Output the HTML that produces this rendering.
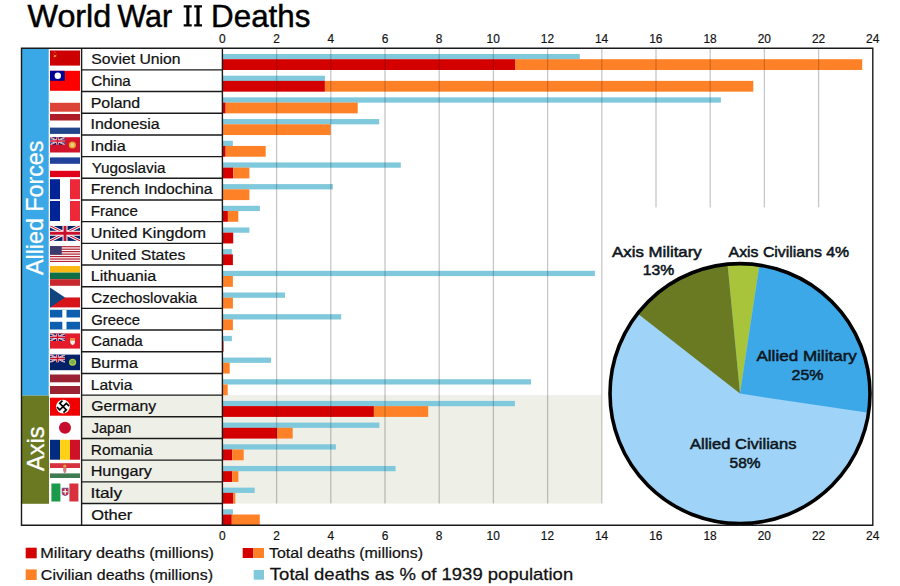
<!DOCTYPE html>
<html><head><meta charset="utf-8"><style>
html,body{margin:0;padding:0;background:#fff;width:900px;height:586px;overflow:hidden}
svg{display:block}
text{font-family:"Liberation Sans",sans-serif}
</style></head><body>
<svg width="900" height="586" viewBox="0 0 900 586">
<rect x="0" y="0" width="900" height="586" fill="#fff"/><rect x="81.5" y="395.11" width="519.90" height="108.41" fill="#eef0e8"/><rect x="21.5" y="48.20" width="27.2" height="347.40" fill="#3aa8e6"/><rect x="21.5" y="395.6" width="27.5" height="108.20" fill="#6b7a22"/><line x1="276.60" y1="48.2" x2="276.60" y2="503.5" stroke="#000" stroke-opacity="0.04" stroke-width="1.3"/><line x1="330.80" y1="48.2" x2="330.80" y2="503.5" stroke="#000" stroke-opacity="0.04" stroke-width="1.3"/><line x1="385.00" y1="48.2" x2="385.00" y2="503.5" stroke="#000" stroke-opacity="0.04" stroke-width="1.3"/><line x1="439.20" y1="48.2" x2="439.20" y2="503.5" stroke="#000" stroke-opacity="0.04" stroke-width="1.3"/><line x1="493.40" y1="48.2" x2="493.40" y2="503.5" stroke="#000" stroke-opacity="0.04" stroke-width="1.3"/><line x1="547.60" y1="48.2" x2="547.60" y2="503.5" stroke="#000" stroke-opacity="0.04" stroke-width="1.3"/><line x1="601.80" y1="48.2" x2="601.80" y2="503.5" stroke="#000" stroke-opacity="0.04" stroke-width="1.3"/><line x1="656.00" y1="48.2" x2="656.00" y2="207.4" stroke="#000" stroke-opacity="0.04" stroke-width="1.3"/><line x1="710.20" y1="48.2" x2="710.20" y2="207.4" stroke="#000" stroke-opacity="0.04" stroke-width="1.3"/><line x1="764.40" y1="48.2" x2="764.40" y2="207.4" stroke="#000" stroke-opacity="0.04" stroke-width="1.3"/><line x1="818.60" y1="48.2" x2="818.60" y2="207.4" stroke="#000" stroke-opacity="0.04" stroke-width="1.3"/><rect x="222.40" y="54.00" width="357.40" height="5.3" fill="#80c8dc"/><rect x="222.40" y="59.20" width="292.60" height="10.8" fill="#d40000"/><rect x="515.00" y="59.20" width="347.20" height="10.8" fill="#ff8127"/><rect x="222.40" y="75.68" width="102.50" height="5.3" fill="#80c8dc"/><rect x="222.40" y="80.88" width="102.50" height="10.8" fill="#d40000"/><rect x="324.90" y="80.88" width="428.40" height="10.8" fill="#ff8127"/><rect x="222.40" y="97.36" width="498.50" height="5.3" fill="#80c8dc"/><rect x="222.40" y="102.56" width="3.30" height="10.8" fill="#d40000"/><rect x="225.70" y="102.56" width="132.00" height="10.8" fill="#ff8127"/><rect x="222.40" y="119.05" width="156.80" height="5.3" fill="#80c8dc"/><rect x="222.40" y="124.25" width="108.20" height="10.8" fill="#ff8127"/><rect x="222.40" y="140.73" width="10.40" height="5.3" fill="#80c8dc"/><rect x="222.40" y="145.93" width="3.30" height="10.8" fill="#d40000"/><rect x="225.70" y="145.93" width="40.00" height="10.8" fill="#ff8127"/><rect x="222.40" y="162.41" width="178.40" height="5.3" fill="#80c8dc"/><rect x="222.40" y="167.61" width="10.80" height="10.8" fill="#d40000"/><rect x="233.20" y="167.61" width="16.20" height="10.8" fill="#ff8127"/><rect x="222.40" y="184.09" width="110.40" height="5.3" fill="#80c8dc"/><rect x="222.40" y="189.29" width="27.00" height="10.8" fill="#ff8127"/><rect x="222.40" y="205.77" width="37.50" height="5.3" fill="#80c8dc"/><rect x="222.40" y="210.97" width="5.50" height="10.8" fill="#d40000"/><rect x="227.90" y="210.97" width="10.40" height="10.8" fill="#ff8127"/><rect x="222.40" y="227.45" width="27.00" height="5.3" fill="#80c8dc"/><rect x="222.40" y="232.65" width="10.80" height="10.8" fill="#d40000"/><rect x="222.40" y="249.14" width="9.40" height="5.3" fill="#80c8dc"/><rect x="222.40" y="254.34" width="10.50" height="10.8" fill="#d40000"/><rect x="222.40" y="270.82" width="372.50" height="5.3" fill="#80c8dc"/><rect x="222.40" y="276.02" width="10.50" height="10.8" fill="#ff8127"/><rect x="222.40" y="292.50" width="62.60" height="5.3" fill="#80c8dc"/><rect x="222.40" y="297.70" width="10.50" height="10.8" fill="#ff8127"/><rect x="222.40" y="314.18" width="118.80" height="5.3" fill="#80c8dc"/><rect x="222.40" y="319.38" width="10.50" height="10.8" fill="#ff8127"/><rect x="222.40" y="335.86" width="9.50" height="5.3" fill="#80c8dc"/><rect x="222.40" y="341.06" width="1.10" height="10.8" fill="#d40000"/><rect x="222.40" y="357.55" width="48.60" height="5.3" fill="#80c8dc"/><rect x="222.40" y="362.75" width="7.30" height="10.8" fill="#ff8127"/><rect x="222.40" y="379.23" width="308.60" height="5.3" fill="#80c8dc"/><rect x="222.40" y="384.43" width="5.30" height="10.8" fill="#ff8127"/><rect x="222.40" y="400.91" width="292.50" height="5.3" fill="#80c8dc"/><rect x="222.40" y="406.11" width="151.50" height="10.8" fill="#d40000"/><rect x="373.90" y="406.11" width="54.30" height="10.8" fill="#ff8127"/><rect x="222.40" y="422.59" width="157.00" height="5.3" fill="#80c8dc"/><rect x="222.40" y="427.79" width="54.70" height="10.8" fill="#d40000"/><rect x="277.10" y="427.79" width="15.60" height="10.8" fill="#ff8127"/><rect x="222.40" y="444.27" width="113.50" height="5.3" fill="#80c8dc"/><rect x="222.40" y="449.47" width="9.80" height="10.8" fill="#d40000"/><rect x="232.20" y="449.47" width="11.50" height="10.8" fill="#ff8127"/><rect x="222.40" y="465.95" width="173.20" height="5.3" fill="#80c8dc"/><rect x="222.40" y="471.15" width="9.80" height="10.8" fill="#d40000"/><rect x="232.20" y="471.15" width="6.20" height="10.8" fill="#ff8127"/><rect x="222.40" y="487.64" width="32.30" height="5.3" fill="#80c8dc"/><rect x="222.40" y="492.84" width="10.80" height="10.8" fill="#d40000"/><rect x="233.20" y="492.84" width="2.10" height="10.8" fill="#ff8127"/><rect x="222.40" y="509.32" width="10.50" height="5.3" fill="#80c8dc"/><rect x="222.40" y="514.52" width="9.40" height="10.8" fill="#d40000"/><rect x="231.80" y="514.52" width="28.00" height="10.8" fill="#ff8127"/><line x1="276.60" y1="48.2" x2="276.60" y2="503.5" stroke="#000" stroke-opacity="0.19" stroke-width="1.3"/><line x1="330.80" y1="48.2" x2="330.80" y2="503.5" stroke="#000" stroke-opacity="0.19" stroke-width="1.3"/><line x1="385.00" y1="48.2" x2="385.00" y2="503.5" stroke="#000" stroke-opacity="0.19" stroke-width="1.3"/><line x1="439.20" y1="48.2" x2="439.20" y2="503.5" stroke="#000" stroke-opacity="0.19" stroke-width="1.3"/><line x1="493.40" y1="48.2" x2="493.40" y2="503.5" stroke="#000" stroke-opacity="0.19" stroke-width="1.3"/><line x1="547.60" y1="48.2" x2="547.60" y2="503.5" stroke="#000" stroke-opacity="0.19" stroke-width="1.3"/><line x1="601.80" y1="48.2" x2="601.80" y2="503.5" stroke="#000" stroke-opacity="0.19" stroke-width="1.3"/><line x1="656.00" y1="48.2" x2="656.00" y2="207.4" stroke="#000" stroke-opacity="0.19" stroke-width="1.3"/><line x1="710.20" y1="48.2" x2="710.20" y2="207.4" stroke="#000" stroke-opacity="0.19" stroke-width="1.3"/><line x1="764.40" y1="48.2" x2="764.40" y2="207.4" stroke="#000" stroke-opacity="0.19" stroke-width="1.3"/><line x1="818.60" y1="48.2" x2="818.60" y2="207.4" stroke="#000" stroke-opacity="0.19" stroke-width="1.3"/><circle cx="740.0" cy="393.6" r="130.0" fill="#9fd3f7"/><path d="M740.0,393.6 L727.54,264.20 A130.0,130.0 0 0 1 759.44,265.06 Z" fill="#a8c43a"/><path d="M740.0,393.6 L759.44,265.06 A130.0,130.0 0 0 1 868.57,412.82 Z" fill="#3ca8e8"/><path d="M740.0,393.6 L637.56,313.56 A130.0,130.0 0 0 1 727.54,264.20 Z" fill="#6a7a22"/><circle cx="740.0" cy="393.6" r="130.0" fill="none" stroke="#000" stroke-width="3.6"/><path d="M21.5,48.2 H872.8 V525.2 H21.5 Z" fill="none" stroke="#1a1a1a" stroke-width="1.4"/><line x1="81.6" y1="48.2" x2="81.6" y2="525.2" stroke="#1a1a1a" stroke-width="1.4"/><line x1="222.4" y1="48.2" x2="222.4" y2="525.2" stroke="#1a1a1a" stroke-width="1.4"/><line x1="81.6" y1="69.88" x2="222.4" y2="69.88" stroke="#1a1a1a" stroke-width="1.4"/><line x1="81.6" y1="91.56" x2="222.4" y2="91.56" stroke="#1a1a1a" stroke-width="1.4"/><line x1="81.6" y1="113.25" x2="222.4" y2="113.25" stroke="#1a1a1a" stroke-width="1.4"/><line x1="81.6" y1="134.93" x2="222.4" y2="134.93" stroke="#1a1a1a" stroke-width="1.4"/><line x1="81.6" y1="156.61" x2="222.4" y2="156.61" stroke="#1a1a1a" stroke-width="1.4"/><line x1="81.6" y1="178.29" x2="222.4" y2="178.29" stroke="#1a1a1a" stroke-width="1.4"/><line x1="81.6" y1="199.97" x2="222.4" y2="199.97" stroke="#1a1a1a" stroke-width="1.4"/><line x1="81.6" y1="221.65" x2="222.4" y2="221.65" stroke="#1a1a1a" stroke-width="1.4"/><line x1="81.6" y1="243.34" x2="222.4" y2="243.34" stroke="#1a1a1a" stroke-width="1.4"/><line x1="81.6" y1="265.02" x2="222.4" y2="265.02" stroke="#1a1a1a" stroke-width="1.4"/><line x1="81.6" y1="286.70" x2="222.4" y2="286.70" stroke="#1a1a1a" stroke-width="1.4"/><line x1="81.6" y1="308.38" x2="222.4" y2="308.38" stroke="#1a1a1a" stroke-width="1.4"/><line x1="81.6" y1="330.06" x2="222.4" y2="330.06" stroke="#1a1a1a" stroke-width="1.4"/><line x1="81.6" y1="351.75" x2="222.4" y2="351.75" stroke="#1a1a1a" stroke-width="1.4"/><line x1="81.6" y1="373.43" x2="222.4" y2="373.43" stroke="#1a1a1a" stroke-width="1.4"/><line x1="81.6" y1="395.11" x2="222.4" y2="395.11" stroke="#1a1a1a" stroke-width="1.4"/><line x1="81.6" y1="416.79" x2="222.4" y2="416.79" stroke="#1a1a1a" stroke-width="1.4"/><line x1="81.6" y1="438.47" x2="222.4" y2="438.47" stroke="#1a1a1a" stroke-width="1.4"/><line x1="81.6" y1="460.15" x2="222.4" y2="460.15" stroke="#1a1a1a" stroke-width="1.4"/><line x1="81.6" y1="481.84" x2="222.4" y2="481.84" stroke="#1a1a1a" stroke-width="1.4"/><line x1="81.6" y1="503.52" x2="222.4" y2="503.52" stroke="#1a1a1a" stroke-width="1.4"/><text x="91.29" y="64.40" font-size="14.53" textLength="89.23" lengthAdjust="spacingAndGlyphs" fill="#111" stroke="#111" stroke-width="0.22" >Soviet Union</text><text x="91.23" y="86.08" font-size="14.53" textLength="39.57" lengthAdjust="spacingAndGlyphs" fill="#111" stroke="#111" stroke-width="0.22" >China</text><text x="90.70" y="107.76" font-size="14.53" textLength="49.52" lengthAdjust="spacingAndGlyphs" fill="#111" stroke="#111" stroke-width="0.22" >Poland</text><text x="90.53" y="129.45" font-size="14.53" textLength="69.17" lengthAdjust="spacingAndGlyphs" fill="#111" stroke="#111" stroke-width="0.22" >Indonesia</text><text x="90.51" y="151.13" font-size="14.53" textLength="35.20" lengthAdjust="spacingAndGlyphs" fill="#111" stroke="#111" stroke-width="0.22" >India</text><text x="91.66" y="172.81" font-size="14.53" textLength="73.94" lengthAdjust="spacingAndGlyphs" fill="#111" stroke="#111" stroke-width="0.22" >Yugoslavia</text><text x="90.71" y="194.49" font-size="14.53" textLength="121.79" lengthAdjust="spacingAndGlyphs" fill="#111" stroke="#111" stroke-width="0.22" >French Indochina</text><text x="90.76" y="216.17" font-size="14.53" textLength="47.11" lengthAdjust="spacingAndGlyphs" fill="#111" stroke="#111" stroke-width="0.22" >France</text><text x="90.75" y="237.85" font-size="14.53" textLength="115.22" lengthAdjust="spacingAndGlyphs" fill="#111" stroke="#111" stroke-width="0.22" >United Kingdom</text><text x="90.79" y="259.54" font-size="14.53" textLength="94.49" lengthAdjust="spacingAndGlyphs" fill="#111" stroke="#111" stroke-width="0.22" >United States</text><text x="90.67" y="281.22" font-size="14.53" textLength="65.63" lengthAdjust="spacingAndGlyphs" fill="#111" stroke="#111" stroke-width="0.22" >Lithuania</text><text x="91.23" y="302.90" font-size="14.53" textLength="105.98" lengthAdjust="spacingAndGlyphs" fill="#111" stroke="#111" stroke-width="0.22" >Czechoslovakia</text><text x="91.26" y="324.58" font-size="14.53" textLength="48.80" lengthAdjust="spacingAndGlyphs" fill="#111" stroke="#111" stroke-width="0.22" >Greece</text><text x="91.25" y="346.26" font-size="14.53" textLength="51.55" lengthAdjust="spacingAndGlyphs" fill="#111" stroke="#111" stroke-width="0.22" >Canada</text><text x="90.69" y="367.95" font-size="14.53" textLength="47.12" lengthAdjust="spacingAndGlyphs" fill="#111" stroke="#111" stroke-width="0.22" >Burma</text><text x="90.72" y="389.63" font-size="14.53" textLength="41.59" lengthAdjust="spacingAndGlyphs" fill="#111" stroke="#111" stroke-width="0.22" >Latvia</text><text x="91.21" y="411.31" font-size="14.53" textLength="65.03" lengthAdjust="spacingAndGlyphs" fill="#111" stroke="#111" stroke-width="0.22" >Germany</text><text x="91.77" y="432.99" font-size="14.53" textLength="39.59" lengthAdjust="spacingAndGlyphs" fill="#111" stroke="#111" stroke-width="0.22" >Japan</text><text x="90.73" y="454.67" font-size="14.53" textLength="61.87" lengthAdjust="spacingAndGlyphs" fill="#111" stroke="#111" stroke-width="0.22" >Romania</text><text x="90.67" y="476.35" font-size="14.53" textLength="61.26" lengthAdjust="spacingAndGlyphs" fill="#111" stroke="#111" stroke-width="0.22" >Hungary</text><text x="90.41" y="498.04" font-size="14.53" textLength="31.62" lengthAdjust="spacingAndGlyphs" fill="#111" stroke="#111" stroke-width="0.22" >Italy</text><text x="91.23" y="519.72" font-size="14.53" textLength="41.14" lengthAdjust="spacingAndGlyphs" fill="#111" stroke="#111" stroke-width="0.22" >Other</text><text x="219.09" y="43.40" font-size="11.92" textLength="6.63" lengthAdjust="spacingAndGlyphs" fill="#111" stroke="#111" stroke-width="0.18" >0</text><text x="219.09" y="540.10" font-size="11.92" textLength="6.63" lengthAdjust="spacingAndGlyphs" fill="#111" stroke="#111" stroke-width="0.18" >0</text><text x="273.29" y="43.40" font-size="11.92" textLength="6.63" lengthAdjust="spacingAndGlyphs" fill="#111" stroke="#111" stroke-width="0.18" >2</text><text x="273.29" y="540.10" font-size="11.92" textLength="6.63" lengthAdjust="spacingAndGlyphs" fill="#111" stroke="#111" stroke-width="0.18" >2</text><text x="327.52" y="43.40" font-size="11.92" textLength="6.63" lengthAdjust="spacingAndGlyphs" fill="#111" stroke="#111" stroke-width="0.18" >4</text><text x="327.52" y="540.10" font-size="11.92" textLength="6.63" lengthAdjust="spacingAndGlyphs" fill="#111" stroke="#111" stroke-width="0.18" >4</text><text x="381.64" y="43.40" font-size="11.92" textLength="6.63" lengthAdjust="spacingAndGlyphs" fill="#111" stroke="#111" stroke-width="0.18" >6</text><text x="381.64" y="540.10" font-size="11.92" textLength="6.63" lengthAdjust="spacingAndGlyphs" fill="#111" stroke="#111" stroke-width="0.18" >6</text><text x="435.89" y="43.40" font-size="11.92" textLength="6.63" lengthAdjust="spacingAndGlyphs" fill="#111" stroke="#111" stroke-width="0.18" >8</text><text x="435.89" y="540.10" font-size="11.92" textLength="6.63" lengthAdjust="spacingAndGlyphs" fill="#111" stroke="#111" stroke-width="0.18" >8</text><text x="486.55" y="43.40" font-size="11.92" textLength="13.26" lengthAdjust="spacingAndGlyphs" fill="#111" stroke="#111" stroke-width="0.18" >10</text><text x="486.55" y="540.10" font-size="11.92" textLength="13.26" lengthAdjust="spacingAndGlyphs" fill="#111" stroke="#111" stroke-width="0.18" >10</text><text x="540.82" y="43.40" font-size="11.92" textLength="13.26" lengthAdjust="spacingAndGlyphs" fill="#111" stroke="#111" stroke-width="0.18" >12</text><text x="540.82" y="540.10" font-size="11.92" textLength="13.26" lengthAdjust="spacingAndGlyphs" fill="#111" stroke="#111" stroke-width="0.18" >12</text><text x="594.89" y="43.40" font-size="11.92" textLength="13.26" lengthAdjust="spacingAndGlyphs" fill="#111" stroke="#111" stroke-width="0.18" >14</text><text x="594.89" y="540.10" font-size="11.92" textLength="13.26" lengthAdjust="spacingAndGlyphs" fill="#111" stroke="#111" stroke-width="0.18" >14</text><text x="649.18" y="43.40" font-size="11.92" textLength="13.26" lengthAdjust="spacingAndGlyphs" fill="#111" stroke="#111" stroke-width="0.18" >16</text><text x="649.18" y="540.10" font-size="11.92" textLength="13.26" lengthAdjust="spacingAndGlyphs" fill="#111" stroke="#111" stroke-width="0.18" >16</text><text x="703.38" y="43.40" font-size="11.92" textLength="13.26" lengthAdjust="spacingAndGlyphs" fill="#111" stroke="#111" stroke-width="0.18" >18</text><text x="703.38" y="540.10" font-size="11.92" textLength="13.26" lengthAdjust="spacingAndGlyphs" fill="#111" stroke="#111" stroke-width="0.18" >18</text><text x="757.71" y="43.40" font-size="11.92" textLength="13.26" lengthAdjust="spacingAndGlyphs" fill="#111" stroke="#111" stroke-width="0.18" >20</text><text x="757.71" y="540.10" font-size="11.92" textLength="13.26" lengthAdjust="spacingAndGlyphs" fill="#111" stroke="#111" stroke-width="0.18" >20</text><text x="811.97" y="43.40" font-size="11.92" textLength="13.26" lengthAdjust="spacingAndGlyphs" fill="#111" stroke="#111" stroke-width="0.18" >22</text><text x="811.97" y="540.10" font-size="11.92" textLength="13.26" lengthAdjust="spacingAndGlyphs" fill="#111" stroke="#111" stroke-width="0.18" >22</text><text x="866.05" y="43.40" font-size="11.92" textLength="13.26" lengthAdjust="spacingAndGlyphs" fill="#111" stroke="#111" stroke-width="0.18" >24</text><text x="866.05" y="540.10" font-size="11.92" textLength="13.26" lengthAdjust="spacingAndGlyphs" fill="#111" stroke="#111" stroke-width="0.18" >24</text><text x="27.47" y="26.50" font-size="30.52" textLength="83.81" lengthAdjust="spacingAndGlyphs" fill="#000" stroke="#000" stroke-width="0.46" >World</text><text x="117.38" y="26.50" font-size="30.52" textLength="54.81" lengthAdjust="spacingAndGlyphs" fill="#000" stroke="#000" stroke-width="0.46" >War</text><text x="211.13" y="26.50" font-size="30.52" textLength="99.21" lengthAdjust="spacingAndGlyphs" fill="#000" stroke="#000" stroke-width="0.46" >Deaths</text><path d="M183.7,5.2 H191.7 V7.4 H189.4 V24.3 H191.7 V26.5 H183.7 V24.3 H186.3 V7.4 H183.7 Z" fill="#000"/><path d="M194.2,5.2 H202.0 V7.4 H199.6 V24.3 H202.0 V26.5 H194.2 V24.3 H196.4 V7.4 H194.2 Z" fill="#000"/><rect x="25.7" y="547.7" width="11" height="10.6" fill="#d40000"/><text x="40.37" y="558.00" font-size="14.53" textLength="173.63" lengthAdjust="spacingAndGlyphs" fill="#111" stroke="#111" stroke-width="0.22" >Military deaths (millions)</text><rect x="25.7" y="569.4" width="11" height="10.6" fill="#ff8127"/><text x="40.89" y="580.00" font-size="14.53" textLength="172.11" lengthAdjust="spacingAndGlyphs" fill="#111" stroke="#111" stroke-width="0.22" >Civilian deaths (millions)</text><rect x="242.7" y="548" width="10.7" height="10" fill="#d40000"/><rect x="253.4" y="548" width="10.6" height="10" fill="#ff8127"/><text x="269.05" y="558.00" font-size="14.53" textLength="153.94" lengthAdjust="spacingAndGlyphs" fill="#111" stroke="#111" stroke-width="0.22" >Total deaths (millions)</text><rect x="253.7" y="570" width="10.3" height="9.7" fill="#80c8dc"/><text x="269.89" y="579.70" font-size="17.01" textLength="303.31" lengthAdjust="spacingAndGlyphs" fill="#111" stroke="#111" stroke-width="0.26" >Total deaths as % of 1939 population</text><text x="612.07" y="256.70" font-size="15.55" textLength="89.66" lengthAdjust="spacingAndGlyphs" fill="#0d1620" stroke="#0d1620" stroke-width="0.54" >Axis Military</text><text x="642.81" y="274.60" font-size="15.55" textLength="31.45" lengthAdjust="spacingAndGlyphs" fill="#0d1620" stroke="#0d1620" stroke-width="0.54" >13%</text><text x="728.57" y="256.70" font-size="15.55" textLength="120.59" lengthAdjust="spacingAndGlyphs" fill="#0d1620" stroke="#0d1620" stroke-width="0.54" >Axis Civilians 4%</text><text x="756.47" y="360.80" font-size="14.97" textLength="100.37" lengthAdjust="spacingAndGlyphs" fill="#0d1620" stroke="#0d1620" stroke-width="0.52" >Allied Military</text><text x="791.50" y="379.90" font-size="14.97" textLength="31.97" lengthAdjust="spacingAndGlyphs" fill="#0d1620" stroke="#0d1620" stroke-width="0.52" >25%</text><text x="689.97" y="449.20" font-size="15.26" textLength="106.53" lengthAdjust="spacingAndGlyphs" fill="#0d1620" stroke="#0d1620" stroke-width="0.53" >Allied Civilians</text><text x="729.58" y="467.60" font-size="14.97" textLength="30.97" lengthAdjust="spacingAndGlyphs" fill="#0d1620" stroke="#0d1620" stroke-width="0.52" >58%</text><g transform="translate(43.4,275.0) rotate(-90)"><text x="-0.05" y="0.00" font-size="24.13" textLength="134.48" lengthAdjust="spacingAndGlyphs" fill="#fff" stroke="#fff" stroke-width="0.29" >Allied Forces</text></g><g transform="translate(43.5,470.9) rotate(-90)"><text x="-0.05" y="0.00" font-size="24.13" textLength="44.40" lengthAdjust="spacingAndGlyphs" fill="#fff" stroke="#fff" stroke-width="0.29" >Axis</text></g><rect x="50.00" y="50.50" width="30.00" height="15.10" fill="#cc0000"/><path d="M54.2,52.6 l0.7,-1.1 l0.7,1.1 Z" fill="#f0b040"/><path d="M53.6,56.8 q1.6,0.8 2.6,-2.2 M53.8,54.6 l2.2,2.2" stroke="#f0a030" stroke-width="1.0" fill="none"/><rect x="50.00" y="70.80" width="30.00" height="20.00" fill="#fe0000"/><rect x="50.00" y="70.80" width="14.80" height="10.00" fill="#000095"/><circle cx="57.8" cy="75.8" r="3.2" fill="#fff"/><rect x="50.00" y="102.80" width="30.00" height="8.90" fill="#dc4437"/><rect x="50.00" y="114.00" width="30.00" height="6.50" fill="#ae1c28"/><rect x="50.00" y="127.60" width="30.00" height="6.30" fill="#21468b"/><rect x="50.00" y="137.20" width="30.00" height="15.30" fill="#cf142b"/><svg x="50.0" y="137.2" width="15" height="7.65" viewBox="0 0 60 30" preserveAspectRatio="none"><rect width="60" height="30" fill="#012169"/><path d="M0,0 L60,30 M60,0 L0,30" stroke="#fff" stroke-width="6"/><path d="M0,0 L60,30 M60,0 L0,30" stroke="#C8102E" stroke-width="2"/><path d="M30,0 V30 M0,15 H60" stroke="#fff" stroke-width="10"/><path d="M30,0 V30 M0,15 H60" stroke="#C8102E" stroke-width="6"/></svg><circle cx="72.4" cy="145.0" r="3.6" fill="#e8a030"/><circle cx="72.4" cy="145.0" r="2.0" fill="#e8d080"/><rect x="50.00" y="157.40" width="30.00" height="6.40" fill="#21419a"/><rect x="50.00" y="170.80" width="30.00" height="6.30" fill="#e0001a"/><rect x="50.00" y="179.20" width="10.00" height="20.00" fill="#002395"/><rect x="70.00" y="179.20" width="10.00" height="20.00" fill="#ed2939"/><rect x="50.00" y="201.00" width="10.00" height="20.00" fill="#002395"/><rect x="70.00" y="201.00" width="10.00" height="20.00" fill="#ed2939"/><svg x="50.0" y="225.8" width="30.0" height="15.1" viewBox="0 0 60 30" preserveAspectRatio="none"><rect width="60" height="30" fill="#012169"/><path d="M0,0 L60,30 M60,0 L0,30" stroke="#fff" stroke-width="6"/><path d="M0,0 L60,30 M60,0 L0,30" stroke="#C8102E" stroke-width="2"/><path d="M30,0 V30 M0,15 H60" stroke="#fff" stroke-width="10"/><path d="M30,0 V30 M0,15 H60" stroke="#C8102E" stroke-width="6"/></svg><svg x="50" y="246.1" width="30" height="16" viewBox="0 0 30 16" preserveAspectRatio="none"><rect x="0" y="0.000" width="30" height="1.231" fill="#b22234"/><rect x="0" y="2.462" width="30" height="1.231" fill="#b22234"/><rect x="0" y="4.923" width="30" height="1.231" fill="#b22234"/><rect x="0" y="7.385" width="30" height="1.231" fill="#b22234"/><rect x="0" y="9.846" width="30" height="1.231" fill="#b22234"/><rect x="0" y="12.308" width="30" height="1.231" fill="#b22234"/><rect x="0" y="14.769" width="30" height="1.231" fill="#b22234"/><rect x="0" y="0" width="11.7" height="8.6" fill="#3c3b6e"/></svg><rect x="50.00" y="266.00" width="30.00" height="6.60" fill="#fdb913"/><rect x="50.00" y="272.60" width="30.00" height="6.60" fill="#0f6e45"/><rect x="50.00" y="279.20" width="30.00" height="6.60" fill="#c8272d"/><rect x="50.00" y="297.45" width="30.00" height="9.95" fill="#d7141a"/><path d="M50,287.5 L65,297.45 L50,307.4 Z" fill="#11457e"/><rect x="50.00" y="309.80" width="30.00" height="19.70" fill="#0d5eaf"/><rect x="62.30" y="309.80" width="4.20" height="19.70" fill="#fff"/><rect x="50.00" y="317.50" width="30.00" height="4.30" fill="#fff"/><rect x="50.00" y="333.40" width="30.00" height="15.20" fill="#e41b2a"/><svg x="50.0" y="333.4" width="15" height="7.6" viewBox="0 0 60 30" preserveAspectRatio="none"><rect width="60" height="30" fill="#012169"/><path d="M0,0 L60,30 M60,0 L0,30" stroke="#fff" stroke-width="6"/><path d="M0,0 L60,30 M60,0 L0,30" stroke="#C8102E" stroke-width="2"/><path d="M30,0 V30 M0,15 H60" stroke="#fff" stroke-width="10"/><path d="M30,0 V30 M0,15 H60" stroke="#C8102E" stroke-width="6"/></svg><path d="M70.2,338.5 h4.8 v3.5 q0,2.5 -2.4,3.2 q-2.4,-0.7 -2.4,-3.2 Z" fill="#f4f0e8"/><rect x="70.2" y="338.5" width="4.8" height="2.2" fill="#e89030"/><rect x="50.00" y="354.60" width="30.00" height="15.60" fill="#012169"/><svg x="50.0" y="354.6" width="15" height="7.8" viewBox="0 0 60 30" preserveAspectRatio="none"><rect width="60" height="30" fill="#012169"/><path d="M0,0 L60,30 M60,0 L0,30" stroke="#fff" stroke-width="6"/><path d="M0,0 L60,30 M60,0 L0,30" stroke="#C8102E" stroke-width="2"/><path d="M30,0 V30 M0,15 H60" stroke="#fff" stroke-width="10"/><path d="M30,0 V30 M0,15 H60" stroke="#C8102E" stroke-width="6"/></svg><circle cx="72.6" cy="362.2" r="3.5" fill="#b8d040"/><circle cx="72.6" cy="362.2" r="2.4" fill="#78b050"/><rect x="50.00" y="374.50" width="30.00" height="7.80" fill="#9a2232"/><rect x="50.00" y="386.00" width="30.00" height="8.00" fill="#9a2232"/><rect x="50.00" y="397.70" width="30.00" height="18.00" fill="#f00000"/><circle cx="63" cy="406.6" r="6.9" fill="#fff"/><g transform="translate(63,406.6) rotate(45)"><path d="M0,-4.6 V4.6 M-4.6,0 H4.6 M0,-4.6 H3.0 M4.6,0 V3.0 M0,4.6 H-3.0 M-4.6,0 V-3.0" stroke="#000" stroke-width="1.7" fill="none" stroke-linecap="square"/></g><circle cx="65" cy="427.8" r="6.0" fill="#c80c2c"/><rect x="50.00" y="439.80" width="10.00" height="19.90" fill="#002b7f"/><rect x="60.00" y="439.80" width="10.00" height="19.90" fill="#fcd116"/><rect x="70.00" y="439.80" width="10.00" height="19.90" fill="#ce1126"/><rect x="50.00" y="463.20" width="30.00" height="4.80" fill="#d8303c"/><rect x="50.00" y="473.40" width="30.00" height="4.60" fill="#3f7a50"/><circle cx="64.8" cy="466.2" r="1.6" fill="#e0a040"/><path d="M63.2,468 h3.2 v2.6 q0,2 -1.6,2.6 q-1.6,-0.6 -1.6,-2.6 Z" fill="#d08080"/><rect x="51.40" y="483.50" width="9.00" height="18.00" fill="#1a9a4a"/><rect x="69.40" y="483.50" width="9.00" height="18.00" fill="#d8303c"/><path d="M61.7,487.8 h6.9 v5 q0,2.8 -3.45,3.2 q-3.45,-0.4 -3.45,-3.2 Z" fill="#5a70c0"/><path d="M62.5,488.6 h5.3 v4.3 q0,2.2 -2.65,2.5 q-2.65,-0.3 -2.65,-2.5 Z" fill="#d02030"/><rect x="64.6" y="489" width="1.2" height="5.6" fill="#fff"/><rect x="62.7" y="491.1" width="4.9" height="1.2" fill="#fff"/>
</svg>
</body></html>
